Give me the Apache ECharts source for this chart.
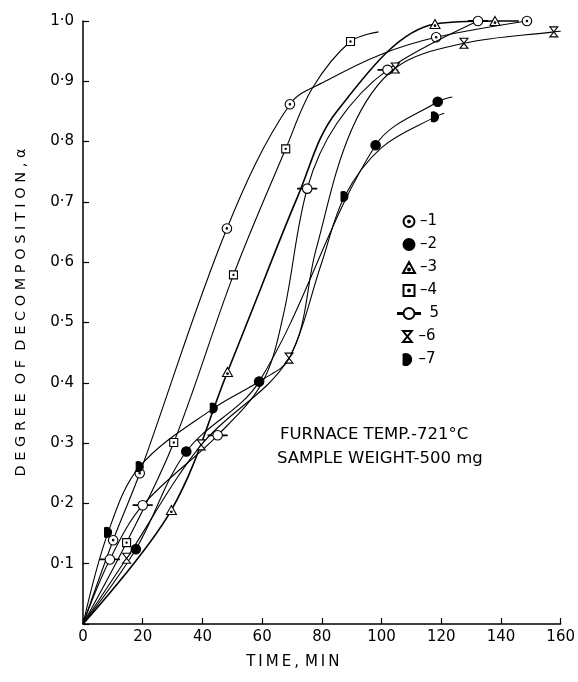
<!DOCTYPE html>
<html>
<head>
<meta charset="utf-8">
<script src="https://cdn.jsdelivr.net/npm/echarts@6/dist/echarts.min.js"></script>
<style>
html,body{margin:0;padding:0;background:#fff;}
#chart{width:578px;height:682px;}
</style>
</head>
<body>
<div id="chart"></div>
<script>
// ---- data: [time (min), degree of decomposition] ----
const xTicks = [0, 20, 40, 60, 80, 100, 120, 140, 160];
const seriesNames = ['–1', '–2', '–3', '–4', '5', '–6', '–7'];

// marked points
const s1Points = [[10.1,0.139],[19,0.25],[48.2,0.656],[69.3,0.862],[118.3,0.973],[148.7,1.0]];
const s2Points = [[17.7,0.124],[34.6,0.286],[59,0.402],[98,0.794],[118.8,0.866]];
const s3Points = [[29.6,0.189],[48.4,0.418],[117.9,0.995],[138,1.0]];
const s4Points = [[14.6,0.135],[30.4,0.301],[50.4,0.579],[67.9,0.788],[89.6,0.966]];
const s5Points = [[9,0.107],[20,0.197],[45.1,0.313],[75.1,0.722],[102,0.919],[132.3,1.0]];
const s6Points = [[14.6,0.109],[39.6,0.297],[69,0.441],[104.6,0.922],[127.6,0.963],[157.7,0.982]];
const s7Points = [[8.4,0.152],[19,0.261],[43.8,0.358],[87.6,0.709],[117.9,0.841]];

// unmarked points
const s1Curve = [[0,0],[82,0.902],[100,0.945]];
const s2Curve = [[0,0],[123.7,0.874]];
const s3Curve = [[0,0],[55,0.5],[72,0.71],[85,0.85],[146,1.0]];
const s4Curve = [[0,0],[77,0.89],[99,0.982]];
const s5Curve = [[0,0],[60,0.40],[67,0.51],[85,0.83]];
const s6Curve = [[0,0],[78,0.62],[90,0.82],[160,0.983]];
const s7Curve = [[0,0],[60,0.405],[69,0.44],[80,0.6],[100,0.79],[121,0.847]];

// ---- symbols ----
const dot = (cx, cy) => `M${cx},${cy-0.8}A0.8,0.8 0 1,1 ${cx},${cy+0.8}A0.8,0.8 0 1,1 ${cx},${cy-0.8}Z`;
const SYM = {
  s1: 'path://M0,-5A5,5 0 1,1 0,5A5,5 0 1,1 0,-5Z' + dot(0,0),
  s2: 'circle',
  s3: 'path://M0,-5L5,4L-5,4Z' + dot(0,1.2),
  s4: 'path://M-5,-5L5,-5L5,5L-5,5Z' + dot(0,0),
  s5: 'path://M-10,-0.35L-5,-0.35L-5,0.35L-10,0.35Z M5,-0.35L10,-0.35L10,0.35L5,0.35Z M0,-5A5,5 0 1,1 0,5A5,5 0 1,1 0,-5Z',
  s6: 'path://M-4,-5L4,-5L-4,5L4,5Z',
  s7: 'path://M-2,-4.58A5,5 0 1,1 -2,4.58Z'
};

function build(points, curve) {
  const all = points.map(p => ({ value: p }))
    .concat(curve.map(p => ({ value: p, symbol: 'none' })));
  all.sort((a, b) => a.value[0] - b.value[0]);
  return all;
}

const defs = [
  { pts: s1Points, cur: s1Curve, sym: SYM.s1, size: 9.5, fill: '#fff', lw: 1.1 },
  { pts: s2Points, cur: s2Curve, sym: SYM.s2, size: 9.5, fill: '#000', lw: 1.1 },
  { pts: s3Points, cur: s3Curve, sym: SYM.s3, size: 10, fill: '#fff', lw: 1.6 },
  { pts: s4Points, cur: s4Curve, sym: SYM.s4, size: 8, fill: '#fff', lw: 1.1 },
  { pts: s5Points, cur: s5Curve, sym: SYM.s5, size: 19, fill: '#fff', lw: 1.1 },
  { pts: s6Points, cur: s6Curve, sym: SYM.s6, size: 10, fill: '#fff', lw: 1.1 },
  { pts: s7Points, cur: s7Curve, sym: SYM.s7, size: 10, fill: '#000', lw: 1.1 }
];

const series = defs.map((d, i) => ({
  name: seriesNames[i],
  type: 'line',
  smooth: 0.35,
  symbol: d.sym,
  symbolSize: d.size,
  symbolKeepAspect: true,
  showAllSymbol: true,
  clip: false,
  z: 2 + i,
  lineStyle: { color: '#000', width: d.lw },
  itemStyle: { color: d.fill, borderColor: '#000', borderWidth: 1.1 },
  emphasis: { disabled: true },
  data: build(d.pts, d.cur)
}));

const FONT = 'DejaVu Sans';
const legendBase = {
  orient: 'vertical',
  itemHeight: 11,
  itemGap: 8,
  selectedMode: false,
  textStyle: { fontFamily: FONT, fontSize: 15, color: '#000', lineHeight: 15 }
};

const chart = echarts.init(document.getElementById('chart'), null, { renderer: 'canvas' });
chart.setOption({
  animation: false,
  backgroundColor: '#fff',
  grid: { left: 83, right: 15, top: 21, bottom: 58, containLabel: false },
  xAxis: {
    type: 'value', min: 0, max: 160, interval: 20,
    name: 'T\u2009I\u2009M\u2009E\u2009,\u2009\u2009M\u2009I\u2009N',
    nameLocation: 'middle', nameGap: 31,
    nameTextStyle: { fontFamily: FONT, fontSize: 15, color: '#000', padding: [0, 58, 0, 0] },
    axisLine: { lineStyle: { color: '#000', width: 1.5 } },
    axisTick: { inside: true, length: 6, lineStyle: { color: '#000', width: 1.2 } },
    axisLabel: { fontFamily: FONT, fontSize: 15, color: '#000', margin: 6,
      formatter: v => xTicks.includes(v) ? String(v) : '' },
    splitLine: { show: false }
  },
  yAxis: {
    type: 'value', min: 0, max: 1.0, interval: 0.1,
    name: 'D E G R E E  O F  D E C O M P O S I T I O N , α',
    nameLocation: 'middle', nameRotate: 90, nameGap: 54,
    nameTextStyle: { fontFamily: FONT, fontSize: 14.5, color: '#000', padding: [0, 0, 0, 20] },
    axisLine: { lineStyle: { color: '#000', width: 1.5 } },
    axisTick: { inside: true, length: 6, lineStyle: { color: '#000', width: 1.2 } },
    axisLabel: { fontFamily: FONT, fontSize: 15, color: '#000', margin: 9,
      formatter: v => v === 0 ? '' : v.toFixed(1).replace('.', '·') },
    splitLine: { show: false }
  },
  legend: [
    Object.assign({}, legendBase, { left: 397, top: 209, itemWidth: 12,
      data: [0,1,2,3].map(i => ({ name: seriesNames[i], icon: defs[i].sym })) }),
    Object.assign({}, legendBase, { left: 392, top: 301, itemWidth: 31,
      data: [{ name: seriesNames[4], icon: defs[4].sym }] }),
    Object.assign({}, legendBase, { left: 397, top: 324, itemWidth: 12,
      data: [5,6].map(i => ({ name: seriesNames[i], icon: defs[i].sym })) })
  ],
  graphic: [
    { type: 'text', left: 280, top: 426,
      style: { text: 'FURNACE TEMP.-721°C', fontFamily: FONT, fontSize: 16.5, fill: '#000' } },
    { type: 'text', left: 277, top: 450,
      style: { text: 'SAMPLE WEIGHT-500 mg', fontFamily: FONT, fontSize: 16.5, fill: '#000' } }
  ],
  series: series
});
</script>
</body>
</html>
